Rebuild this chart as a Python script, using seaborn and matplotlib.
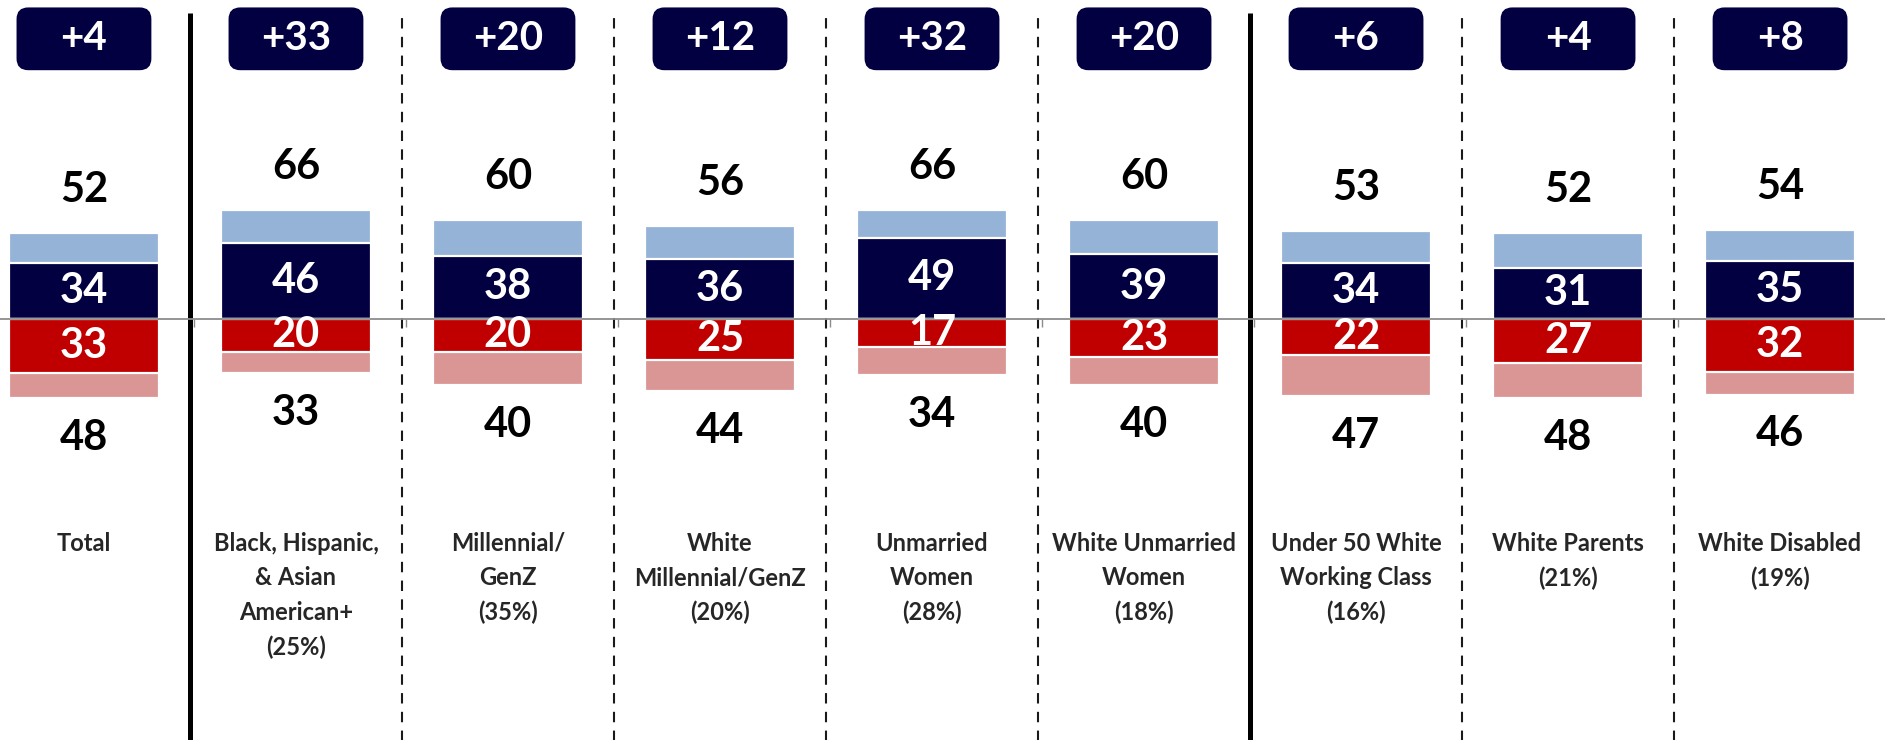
import matplotlib
matplotlib.use("Agg")
import matplotlib.pyplot as plt
import seaborn as sns
import pandas as pd
from matplotlib.patches import FancyBboxPatch

# chart values
groups = ["Total", "Black, Hispanic,\n& Asian\nAmerican+\n(25%)", "Millennial/\nGenZ\n(35%)",
          "White\nMillennial/GenZ\n(20%)", "Unmarried\nWomen\n(28%)", "White Unmarried\nWomen\n(18%)",
          "Under 50 White\nWorking Class\n(16%)", "White Parents\n(21%)", "White Disabled\n(19%)"]
dem_total = [52, 66, 60, 56, 66, 60, 53, 52, 54]
dem_strong = [34, 46, 38, 36, 49, 39, 34, 31, 35]
rep_total = [48, 33, 40, 44, 34, 40, 47, 48, 46]
rep_strong = [33, 20, 20, 25, 17, 23, 22, 27, 32]
margins = ["+4", "+33", "+20", "+12", "+32", "+20", "+6", "+4", "+8"]
solid_after = [0, 5]  # solid separators after these groups

NAVY = "#020041"
LBLUE = "#95b3d7"
RED = "#c00000"
LRED = "#da9694"

sns.set_style("white")
plt.rcParams['font.family'] = ['Lato', 'DejaVu Sans']

df = pd.DataFrame({"group": groups, "dem_total": dem_total, "dem_strong": dem_strong,
                   "rep_total": [-v for v in rep_total], "rep_strong": [-v for v in rep_strong]})

fig = plt.figure(figsize=(18.85, 7.4), dpi=100)
ax = fig.add_axes([0, 0, 1, 1])

bar_w = 0.71
for col, c in [("dem_total", LBLUE), ("dem_strong", NAVY), ("rep_total", LRED), ("rep_strong", RED)]:
    sns.barplot(data=df, x="group", y=col, color=c, saturation=1, width=bar_w,
                edgecolor="white", linewidth=1.6, ax=ax, zorder=3)

ax.set_xlim(-0.396, 8.495)
ax.set_ylim(-255, 193)

num_w = "bold"
for i in range(len(groups)):
    ax.text(i, dem_total[i] + 26, str(dem_total[i]), ha="center", va="center",
            fontsize=30, fontweight=num_w, color="black", zorder=5)
    ax.text(i, -rep_total[i] - 24, str(rep_total[i]), ha="center", va="center",
            fontsize=30, fontweight=num_w, color="black", zorder=5)
    ax.text(i, dem_strong[i] / 2, str(dem_strong[i]), ha="center", va="center",
            fontsize=30, fontweight=num_w, color="white", zorder=5)
    ax.text(i, -rep_strong[i] / 2, str(rep_strong[i]), ha="center", va="center",
            fontsize=30, fontweight=num_w, color="white", zorder=5)
    ax.text(i, -129, groups[i], ha="center", va="top", fontsize=17,
            fontweight=num_w, linespacing=1.6, zorder=5)
    # margin boxes
    box = FancyBboxPatch((i - 0.318, 150.5), 0.636, 38,
                         boxstyle="round,pad=0,rounding_size=0.055",
                         mutation_aspect=128, fc=NAVY, ec="none", zorder=4)
    ax.add_patch(box)
    ax.text(i, 169.5, margins[i], ha="center", va="center", fontsize=29,
            fontweight=num_w, color="white", zorder=5)

# separators
for i in range(len(groups) - 1):
    if i in solid_after:
        ax.vlines(i + 0.5, -260, 185, color="black", linewidth=3.6, zorder=2)
    else:
        ax.vlines(i + 0.5, -260, 187, color="#1a1a1a", linewidth=1.5,
                  linestyles=(0, (5, 4)), zorder=2)

# zero axis
for s in ["top", "right", "left"]:
    ax.spines[s].set_visible(False)
ax.spines["bottom"].set_position(("data", 0))
ax.spines["bottom"].set_color("#8c8c8c")
ax.spines["bottom"].set_linewidth(1.3)
ax.spines["bottom"].set_zorder(4)
ax.set_xticks([])
ax.set_xticks([i + 0.52 for i in range(len(groups) - 1)], minor=True)
ax.tick_params(axis="x", which="minor", direction="out", length=6, width=1,
               color="#8c8c8c", bottom=True)
ax.set_yticks([])
ax.set_xlabel("")
ax.set_ylabel("")

fig.savefig("out.png", dpi=100)
